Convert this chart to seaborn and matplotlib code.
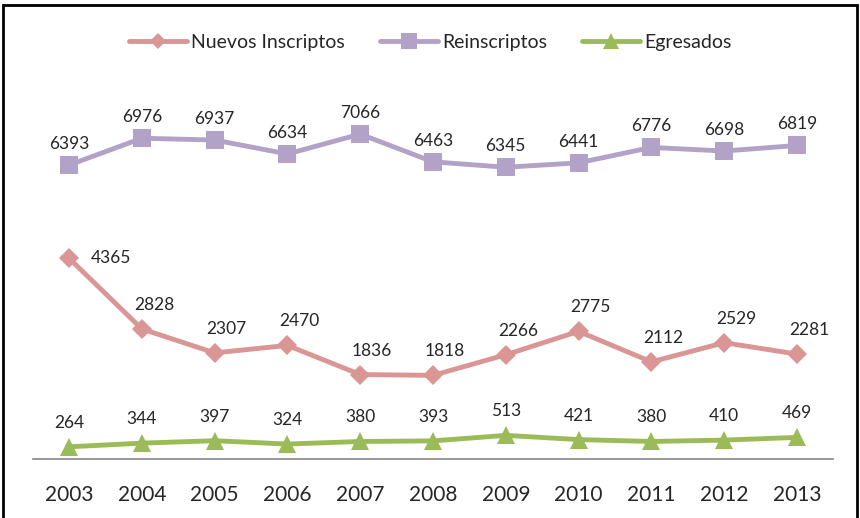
import matplotlib
matplotlib.use("Agg")
import matplotlib.pyplot as plt
import matplotlib.patches as patches
import pandas as pd
import seaborn as sns

# Data
years = ["2003", "2004", "2005", "2006", "2007", "2008", "2009", "2010", "2011", "2012", "2013"]
nuevos = [4365, 2828, 2307, 2470, 1836, 1818, 2266, 2775, 2112, 2529, 2281]
reinscriptos = [6393, 6976, 6937, 6634, 7066, 6463, 6345, 6441, 6776, 6698, 6819]
egresados = [264, 344, 397, 324, 380, 393, 513, 421, 380, 410, 469]
series_names = ["Nuevos Inscriptos", "Reinscriptos", "Egresados"]

colors = {"Nuevos Inscriptos": "#D99694", "Reinscriptos": "#B3A2C7", "Egresados": "#9BBB59"}
markers = {"Nuevos Inscriptos": "D", "Reinscriptos": "s", "Egresados": "^"}
msizes = {"Nuevos Inscriptos": 10, "Reinscriptos": 13, "Egresados": 13}

df = pd.DataFrame({
    "year": years * 3,
    "value": nuevos + reinscriptos + egresados,
    "serie": [series_names[0]] * 11 + [series_names[1]] * 11 + [series_names[2]] * 11,
})

sns.set_style("white")
plt.rcParams["font.family"] = ["Lato", "DejaVu Sans"]

fig = plt.figure(figsize=(8.6, 5.18), dpi=100)
ax = fig.add_axes([0.038, 0.114, 0.931, 0.71])

sns.lineplot(data=df, x="year", y="value", hue="serie", style="serie",
             palette=colors, markers=markers, dashes=False, linewidth=3.5,
             markeredgewidth=0, sort=False, ax=ax)

# marker sizes per series
for line, name in zip(ax.get_lines(), series_names):
    line.set_markersize(msizes[name])

ax.set_ylim(0, 8000)
ax.set_xlim(-0.5, len(years) - 0.5)
ax.set_xlabel("")
ax.set_ylabel("")
ax.set_yticks([])
ax.tick_params(axis="x", length=0, pad=19, labelsize=15)
for s in ["top", "left", "right"]:
    ax.spines[s].set_visible(False)
ax.spines["bottom"].set_color("#868686")
ax.spines["bottom"].set_linewidth(1.2)

# data labels
lbl = 12.5
for i, v in enumerate(reinscriptos):
    ax.annotate(str(v), (i, v), xytext=(0, 21), textcoords="offset pixels",
                ha="center", va="center", fontsize=lbl)
for i, v in enumerate(egresados):
    ax.annotate(str(v), (i, v), xytext=(0, 24), textcoords="offset pixels",
                ha="center", va="center", fontsize=lbl)
for i, v in enumerate(nuevos):
    off = (42, 0) if i == 0 else (12, 24)
    ax.annotate(str(v), (i, v), xytext=off, textcoords="offset pixels",
                ha="center", va="center", fontsize=lbl)

handles, labels = ax.get_legend_handles_labels()
ax.get_legend().remove()
for h, name in zip(handles, labels):
    h.set_markersize(msizes[name] * 0.85)
    h.set_linewidth(3.5)
fig.legend(handles, labels, loc="center", bbox_to_anchor=(0.5, 0.918), ncol=3,
           frameon=False, fontsize=14, handlelength=3, columnspacing=1.8,
           handletextpad=0.2)

# outer frame like the original chart box
fig.patches.append(patches.Rectangle((0.004, -0.01), 0.993, 1.0, transform=fig.transFigure,
                                     fill=False, edgecolor="black", linewidth=2))

fig.savefig("out.png", dpi=100)
